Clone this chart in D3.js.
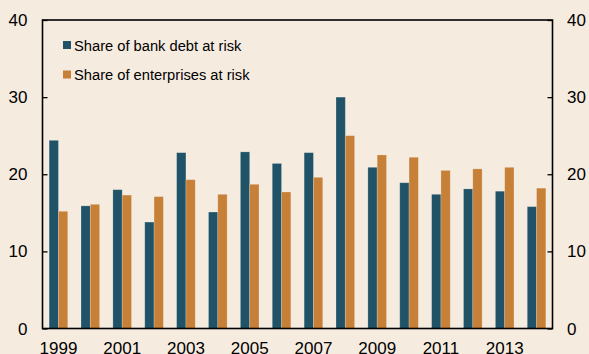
<!DOCTYPE html>
<html><head><meta charset="utf-8">
<script src="https://cdn.jsdelivr.net/npm/d3@7"></script>
<style>
html,body{margin:0;padding:0;background:#f6ebdf;}
svg{display:block;font-family:"Liberation Sans",Arial,sans-serif;}
</style></head>
<body>
<svg id="c" width="589" height="354"></svg>
<script>
const years = [1999,2000,2001,2002,2003,2004,2005,2006,2007,2008,2009,2010,2011,2012,2013,2014];
const bankDebt = [24.4,15.9,18.0,13.8,22.8,15.1,22.9,21.4,22.8,30.0,20.9,18.9,17.4,18.1,17.8,15.8];
const enterprises = [15.2,16.1,17.3,17.1,19.3,17.4,18.7,17.7,19.6,25.0,22.5,22.2,20.5,20.7,20.9,18.2];
const seriesNames = ["Share of bank debt at risk","Share of enterprises at risk"];
const yTicks = [0,10,20,30,40];
const xLabels = [1999,2001,2003,2005,2007,2009,2011,2013];

const colors = ["#215368","#c68038"];
const svg = d3.select("#c");
svg.append("rect").attr("width",589).attr("height",354).attr("fill","#f6ebdf");

const L=42.5, R=552.5, T=20, B=328.5;
const x = d3.scaleBand().domain(years).range([L,R]).padding(0);
const y = d3.scaleLinear().domain([0,40]).range([B,T]);
const bw = 9.3;

const data = years.map((yr,i)=>({yr, vals:[bankDebt[i],enterprises[i]]}));
const g = svg.append("g");
data.forEach(d=>{
  d.vals.forEach((v,k)=>{
    const cx = x(d.yr)+x.bandwidth()/2;
    g.append("rect")
      .attr("x", k===0 ? cx-bw : cx)
      .attr("y", y(v))
      .attr("width", bw)
      .attr("height", y(0)-y(v))
      .attr("fill", colors[k])
      .attr("stroke","#ffffff").attr("stroke-opacity",0.25).attr("stroke-width",0.8);
  });
});

// frame
svg.append("rect").attr("x",L).attr("y",T).attr("width",R-L).attr("height",B-T)
  .attr("fill","none").attr("stroke","#000").attr("stroke-width",1.6);

// y axes
const yl = svg.append("g").attr("transform",`translate(${L},0)`)
  .call(d3.axisRight(y).tickValues(yTicks).tickSize(5).tickFormat(""));
yl.select(".domain").remove();
yl.selectAll("line").attr("stroke","#000").attr("stroke-width",1.3);
const yr2 = svg.append("g").attr("transform",`translate(${R},0)`)
  .call(d3.axisLeft(y).tickValues(yTicks).tickSize(5).tickFormat(""));
yr2.select(".domain").remove();
yr2.selectAll("line").attr("stroke","#000").attr("stroke-width",1.3);

yTicks.forEach(t=>{
  svg.append("text").attr("x",27.5).attr("y",y(t)+6).attr("text-anchor","end")
    .attr("font-size",17).attr("fill","#000").text(t);
  svg.append("text").attr("x",567).attr("y",y(t)+6).attr("text-anchor","start")
    .attr("font-size",17).attr("fill","#000").text(t);
});

xLabels.forEach(t=>{
  svg.append("text").attr("x",x(t)+x.bandwidth()/2).attr("y",354)
    .attr("text-anchor","middle").attr("font-size",17).attr("fill","#000").text(t);
});

// legend
const lg = svg.append("g");
seriesNames.forEach((n,k)=>{
  const yy = 41 + k*29.5;
  lg.append("rect").attr("x",63).attr("y",yy).attr("width",8).attr("height",8).attr("fill",colors[k]);
  lg.append("text").attr("x",74).attr("y",yy+9.5).attr("font-size",14.7).attr("fill","#000").text(n);
});
</script>
</body></html>
